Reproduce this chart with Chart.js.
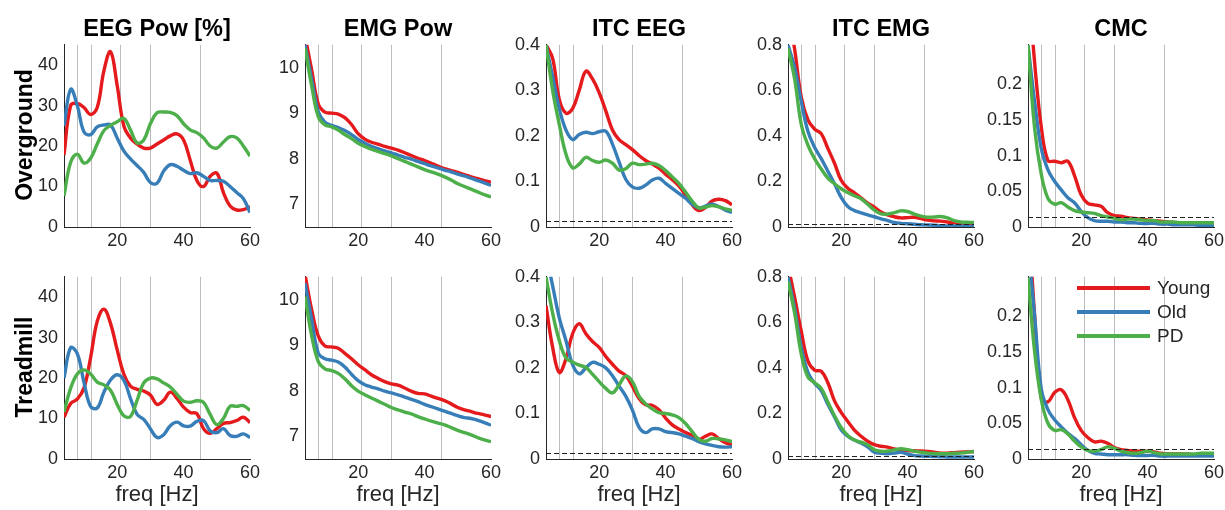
<!DOCTYPE html>
<html>
<head>
<meta charset="utf-8">
<script src="https://cdn.jsdelivr.net/npm/chart.js@4.4.1/dist/chart.umd.min.js"></script>
<style>
  body { margin: 0; background: #fff; }
  #fig { position: relative; width: 1225px; height: 510px; overflow: hidden;
         font-family: 'Liberation Sans', Arial, Helvetica, sans-serif; color: #262626; }
  #fig canvas { position: absolute; }
  .title { position: absolute; text-align: center; font-weight: bold; font-size: 23.5px; color: #000; }
  .rowlab { position: absolute; font-weight: bold; font-size: 23px; color: #000; white-space: nowrap;
            transform: translate(-50%, -50%) rotate(-90deg); }
  .xlab { position: absolute; text-align: center; font-size: 22px; }
  .legline { position: absolute; height: 4px; }
  .legtext { position: absolute; font-size: 19px; line-height: 20px; }
</style>
</head>
<body>
<div id="fig"></div>
<script>
// frecuencias (Hz) y bandas
const freq = [4,6,8,10,12,14,16,18,20,22,24,26,28,30,32,34,36,38,40,42,44,46,48,50,52,54,56,58,60];
const bandEdges = [8, 12, 21, 30, 45];
const groups = ['Young', 'Old', 'PD'];
const colTitles = ['EEG Pow [%]', 'EMG Pow', 'ITC EEG', 'ITC EMG', 'CMC'];
const rowTitles = ['Overground', 'Treadmill'];
const xTicks = [20, 40, 60];
const eegPowTicks = [0, 10, 20, 30, 40];
const emgPowTicks = [7, 8, 9, 10];
const itcEegTicks = [0, 0.1, 0.2, 0.3, 0.4];
const itcEmgTicks = [0, 0.2, 0.4, 0.6, 0.8];
const cmcTicks = [0, 0.05, 0.1, 0.15, 0.2];

// Overground
const eegPowOverYoung = [17.8,30,30.5,29.5,27.8,29.5,38.5,43.3,35,25,22,20.5,19.5,19.5,20.5,21.5,22.5,23,21.5,16.5,11.5,10,12.5,13.3,8.5,5.2,4.2,4.3,5];
const eegPowOverOld = [25,34,30,23.5,22.8,24.7,25.2,25.2,22,18.8,16.8,15.2,13.5,11,10.8,13.8,15.4,15,14,13.2,13.4,12.5,11.5,11.5,11.3,10,8.5,7,3.6];
const eegPowOverPD = [7.7,16,18,15.8,17,20.5,23.8,25.1,26,26.8,24,20.8,21.5,25.5,28.2,28.4,28.3,27.5,25.5,24,23.3,22,20,19.5,21,22.3,22,20,17.5];

const emgPowOverYoung = [10.7,9.95,9.2,9.02,9.0,8.98,8.9,8.75,8.55,8.43,8.36,8.32,8.27,8.23,8.19,8.13,8.07,8.01,7.96,7.9,7.84,7.78,7.74,7.7,7.65,7.6,7.56,7.52,7.48];
const emgPowOverOld = [10.5,9.75,9.03,8.8,8.73,8.68,8.62,8.53,8.42,8.34,8.27,8.22,8.17,8.13,8.08,8.03,7.99,7.94,7.89,7.84,7.8,7.75,7.71,7.66,7.62,7.57,7.52,7.47,7.41];
const emgPowOverPD = [10.43,9.6,8.92,8.74,8.7,8.63,8.53,8.44,8.34,8.27,8.21,8.16,8.11,8.06,8.0,7.94,7.88,7.82,7.76,7.71,7.66,7.6,7.53,7.45,7.39,7.33,7.27,7.21,7.16];

const itcEegOverYoung = [0.4,0.37,0.28,0.25,0.26,0.3,0.342,0.325,0.295,0.255,0.213,0.192,0.181,0.17,0.157,0.146,0.138,0.129,0.116,0.104,0.09,0.07,0.049,0.036,0.043,0.057,0.061,0.058,0.049];
const itcEegOverOld = [0.4,0.33,0.26,0.213,0.192,0.203,0.208,0.205,0.209,0.21,0.182,0.143,0.105,0.088,0.085,0.092,0.103,0.107,0.096,0.085,0.074,0.063,0.05,0.042,0.046,0.05,0.045,0.037,0.032];
const itcEegOverPD = [0.4,0.3,0.225,0.16,0.13,0.138,0.153,0.146,0.142,0.147,0.14,0.125,0.128,0.14,0.137,0.138,0.14,0.135,0.124,0.11,0.096,0.077,0.057,0.042,0.044,0.047,0.044,0.04,0.036];

const itcEmgOverYoung = [0.95,0.78,0.57,0.47,0.43,0.41,0.345,0.28,0.205,0.17,0.15,0.128,0.105,0.087,0.066,0.053,0.045,0.04,0.041,0.043,0.037,0.03,0.027,0.026,0.022,0.018,0.015,0.013,0.012];
const itcEmgOverOld = [0.8,0.7,0.55,0.42,0.35,0.3,0.245,0.19,0.13,0.09,0.072,0.062,0.053,0.045,0.036,0.028,0.02,0.016,0.014,0.012,0.01,0.009,0.008,0.006,0.005,0.005,0.004,0.003,0.003];
const itcEmgOverPD = [0.785,0.65,0.45,0.36,0.3,0.255,0.215,0.19,0.168,0.151,0.137,0.124,0.1,0.074,0.058,0.057,0.063,0.071,0.068,0.057,0.048,0.043,0.044,0.046,0.04,0.028,0.022,0.021,0.02];

const cmcOverYoung = [0.35,0.23,0.14,0.093,0.092,0.09,0.092,0.072,0.045,0.033,0.031,0.029,0.02,0.016,0.015,0.013,0.012,0.011,0.01,0.009,0.008,0.007,0.006,0.006,0.005,0.005,0.004,0.004,0.004];
const cmcOverOld = [0.255,0.175,0.11,0.08,0.064,0.052,0.041,0.034,0.022,0.013,0.009,0.008,0.008,0.007,0.007,0.006,0.006,0.005,0.005,0.005,0.004,0.004,0.003,0.003,0.003,0.003,0.002,0.002,0.002];
const cmcOverPD = [0.255,0.138,0.074,0.04,0.032,0.034,0.028,0.023,0.021,0.02,0.019,0.016,0.014,0.012,0.01,0.011,0.011,0.01,0.009,0.009,0.007,0.007,0.007,0.006,0.006,0.006,0.006,0.006,0.006];

// Treadmill
const eegPowTreadYoung = [10.3,13.7,14.8,17.5,25,34,37,33.5,27,21,18,17.2,16.8,15.8,13.5,14.5,16.5,15,12.8,11.5,11.2,7.5,6.3,7.5,8.8,9,9.5,10.3,9];
const eegPowTreadOld = [20,27.5,26,19,13,12.6,16.5,19.5,20.8,19.5,15,11,9.8,7.5,5.3,6,8.2,9.1,8.2,8.1,9.3,9.5,7,6.5,7.5,5.8,5.6,6.2,5.3];
const eegPowTreadPD = [11.6,17.5,21,22,21,19,18.3,17,13.5,10.7,10.5,14.5,18.8,20,19.8,18.8,17.8,16,14.3,14,14.4,14,11,8.5,10,13,13,13.2,12];

const emgPowTreadYoung = [10.55,9.78,9.2,8.98,8.96,8.93,8.82,8.7,8.57,8.46,8.35,8.27,8.2,8.15,8.12,8.06,7.99,7.94,7.93,7.88,7.83,7.78,7.71,7.63,7.58,7.54,7.5,7.47,7.43];
const emgPowTreadOld = [10.36,9.57,8.82,8.7,8.67,8.63,8.52,8.36,8.22,8.13,8.08,8.04,7.99,7.95,7.91,7.86,7.81,7.76,7.7,7.65,7.6,7.55,7.5,7.45,7.41,7.39,7.35,7.3,7.24];
const emgPowTreadPD = [10.07,9.21,8.64,8.48,8.44,8.38,8.26,8.11,7.99,7.91,7.84,7.77,7.7,7.63,7.58,7.53,7.49,7.43,7.38,7.33,7.29,7.25,7.19,7.13,7.08,7.03,6.97,6.92,6.88];

const itcEegTreadYoung = [0.337,0.245,0.19,0.22,0.275,0.297,0.275,0.258,0.245,0.225,0.208,0.193,0.183,0.16,0.133,0.119,0.118,0.108,0.09,0.075,0.066,0.058,0.052,0.043,0.05,0.055,0.045,0.036,0.031];
const itcEegTreadOld = [0.45,0.38,0.31,0.26,0.207,0.187,0.2,0.212,0.208,0.2,0.183,0.16,0.138,0.108,0.07,0.058,0.066,0.066,0.06,0.058,0.055,0.05,0.045,0.038,0.033,0.03,0.027,0.026,0.027];
const itcEegTreadPD = [0.4,0.32,0.26,0.222,0.213,0.206,0.201,0.186,0.17,0.155,0.145,0.163,0.182,0.17,0.138,0.121,0.11,0.102,0.1,0.097,0.091,0.078,0.06,0.043,0.039,0.045,0.044,0.042,0.038];

const itcEmgTreadYoung = [0.85,0.71,0.56,0.43,0.39,0.385,0.335,0.255,0.205,0.165,0.127,0.1,0.078,0.063,0.056,0.052,0.044,0.039,0.037,0.036,0.035,0.033,0.03,0.026,0.026,0.028,0.03,0.031,0.033];
const itcEmgTreadOld = [0.8,0.66,0.49,0.38,0.333,0.3,0.24,0.185,0.128,0.1,0.083,0.07,0.053,0.03,0.025,0.023,0.026,0.029,0.022,0.015,0.013,0.012,0.011,0.01,0.009,0.009,0.009,0.009,0.009];
const itcEmgTreadPD = [0.78,0.64,0.46,0.36,0.335,0.31,0.25,0.19,0.138,0.103,0.083,0.074,0.062,0.041,0.034,0.035,0.04,0.045,0.041,0.034,0.03,0.026,0.024,0.023,0.023,0.025,0.026,0.029,0.033];

const cmcTreadYoung = [0.35,0.2,0.085,0.08,0.093,0.097,0.083,0.058,0.04,0.03,0.024,0.025,0.022,0.016,0.013,0.012,0.011,0.011,0.011,0.01,0.008,0.007,0.007,0.007,0.007,0.006,0.006,0.006,0.006];
const cmcTreadOld = [0.3,0.2,0.098,0.069,0.055,0.045,0.036,0.029,0.02,0.012,0.008,0.007,0.006,0.006,0.006,0.006,0.005,0.005,0.005,0.005,0.004,0.004,0.004,0.004,0.004,0.004,0.004,0.004,0.004];
const cmcTreadPD = [0.254,0.15,0.083,0.05,0.04,0.041,0.035,0.025,0.017,0.012,0.011,0.013,0.017,0.015,0.011,0.009,0.008,0.009,0.011,0.009,0.007,0.007,0.007,0.007,0.007,0.007,0.008,0.008,0.008];

// niveles de significancia (línea discontinua)
const sigItcEeg = 0.014;
const sigItcEmg = 0.012;
const sigCmc = 0.014;

// estilos
const groupColors = ['rgb(228,26,28)', 'rgb(55,126,184)', 'rgb(77,175,74)'];
const colLeft = [64, 305, 546, 788, 1028];
const rowTop = [42, 274];
const plotW = 186, plotH = 185;
const padL = 56, padT = 14, padR = 16, padB = 30;

const colRanges = [[0, 45], [6.5, 10.5], [0, 0.4], [0, 0.8], [0, 0.255]];
const colTicks = [eegPowTicks, emgPowTicks, itcEegTicks, itcEmgTicks, cmcTicks];
const colLevels = [null, null, sigItcEeg, sigItcEmg, sigCmc];
const series = [
  [[eegPowOverYoung, eegPowOverOld, eegPowOverPD],
   [emgPowOverYoung, emgPowOverOld, emgPowOverPD],
   [itcEegOverYoung, itcEegOverOld, itcEegOverPD],
   [itcEmgOverYoung, itcEmgOverOld, itcEmgOverPD],
   [cmcOverYoung, cmcOverOld, cmcOverPD]],
  [[eegPowTreadYoung, eegPowTreadOld, eegPowTreadPD],
   [emgPowTreadYoung, emgPowTreadOld, emgPowTreadPD],
   [itcEegTreadYoung, itcEegTreadOld, itcEegTreadPD],
   [itcEmgTreadYoung, itcEmgTreadOld, itcEmgTreadPD],
   [cmcTreadYoung, cmcTreadOld, cmcTreadPD]]
];

// líneas verticales de bandas + línea discontinua de significancia
const bandLines = {
  id: 'bandLines',
  beforeDatasetsDraw(chart) {
    const {ctx, chartArea, scales} = chart;
    ctx.save();
    ctx.strokeStyle = '#bdbdbd';
    ctx.lineWidth = 1;
    bandEdges.forEach(f => {
      const x = Math.round(scales.x.getPixelForValue(f)) + 0.5;
      ctx.beginPath();
      ctx.moveTo(x, chartArea.top);
      ctx.lineTo(x, chartArea.bottom);
      ctx.stroke();
    });
    ctx.restore();
  },
  afterDatasetsDraw(chart, args, opts) {
    if (opts.level == null) return;
    const {ctx, chartArea, scales} = chart;
    const y = Math.round(scales.y.getPixelForValue(opts.level)) + 0.5;
    ctx.save();
    ctx.strokeStyle = '#222';
    ctx.lineWidth = 1.2;
    ctx.setLineDash([5, 3]);
    ctx.beginPath();
    ctx.moveTo(chartArea.left, y);
    ctx.lineTo(chartArea.right, y);
    ctx.stroke();
    ctx.restore();
  }
};

const fig = document.getElementById('fig');
const tickFont = { family: "'Liberation Sans', Arial, Helvetica, sans-serif", size: 18 };

function fmt(v) {
  return String(parseFloat(Number(v).toFixed(4)));
}

function addText(cls, text, css) {
  const d = document.createElement('div');
  d.className = cls;
  d.textContent = text;
  Object.assign(d.style, css);
  fig.appendChild(d);
  return d;
}

function drawPanel(r, c) {
  const canvas = document.createElement('canvas');
  canvas.width = padL + plotW + padR;
  canvas.height = padT + plotH + padB;
  canvas.style.left = (colLeft[c] - padL) + 'px';
  canvas.style.top = (rowTop[r] - padT) + 'px';
  fig.appendChild(canvas);

  const yTicks = colTicks[c];
  new Chart(canvas.getContext('2d'), {
    type: 'line',
    data: {
      labels: freq,
      datasets: series[r][c].map((vals, i) => ({
        label: groups[i],
        data: vals.map((v, k) => ({ x: freq[k], y: v })),
        borderColor: groupColors[i],
        backgroundColor: groupColors[i],
        borderWidth: 3.4,
        pointRadius: 0,
        tension: 0.4,
        order: 3 - i
      }))
    },
    options: {
      responsive: false,
      animation: false,
      layout: { padding: { left: 0, top: padT, right: padR, bottom: 0 } },
      plugins: {
        legend: { display: false },
        tooltip: { enabled: false },
        bandLines: { level: colLevels[c] }
      },
      scales: {
        x: {
          type: 'linear',
          min: 4, max: 60,
          grid: { display: false, drawTicks: false },
          border: { display: true, color: '#262626', width: 1 },
          afterBuildTicks: s => { s.ticks = xTicks.map(v => ({ value: v })); },
          afterFit: s => { s.height = padB; },
          ticks: { color: '#262626', font: tickFont, padding: 3, maxRotation: 0, callback: v => fmt(v) }
        },
        y: {
          min: colRanges[c][0], max: colRanges[c][1],
          grid: { display: false, drawTicks: false },
          border: { display: true, color: '#262626', width: 1 },
          afterBuildTicks: s => { s.ticks = yTicks.map(v => ({ value: v })); },
          afterFit: s => { s.width = padL; },
          ticks: { color: '#262626', font: tickFont, padding: 6, callback: v => fmt(v) }
        }
      }
    },
    plugins: [bandLines]
  });
}

for (let r = 0; r < 2; r++) {
  for (let c = 0; c < 5; c++) drawPanel(r, c);
}

// títulos de columnas
colTitles.forEach((t, c) => {
  addText('title', t, { left: colLeft[c] + 'px', width: plotW + 'px', top: '14px', lineHeight: '28px' });
});
// títulos de filas
rowTitles.forEach((t, r) => {
  addText('rowlab', t, { left: '24px', top: (rowTop[r] + plotH / 2) + 'px' });
});
// etiqueta eje x (fila inferior)
colLeft.forEach(x => {
  addText('xlab', 'freq [Hz]', { left: x + 'px', width: plotW + 'px', top: '481px', lineHeight: '26px' });
});

// leyenda (panel CMC treadmill)
const legY = [288, 312, 336];
groups.forEach((g, i) => {
  const ln = document.createElement('div');
  ln.className = 'legline';
  Object.assign(ln.style, { left: '1077px', width: '73px', top: (legY[i] - 2) + 'px', background: groupColors[i] });
  fig.appendChild(ln);
  addText('legtext', g, { left: '1157px', top: (legY[i] - 10) + 'px' });
});
</script>
</body>
</html>
